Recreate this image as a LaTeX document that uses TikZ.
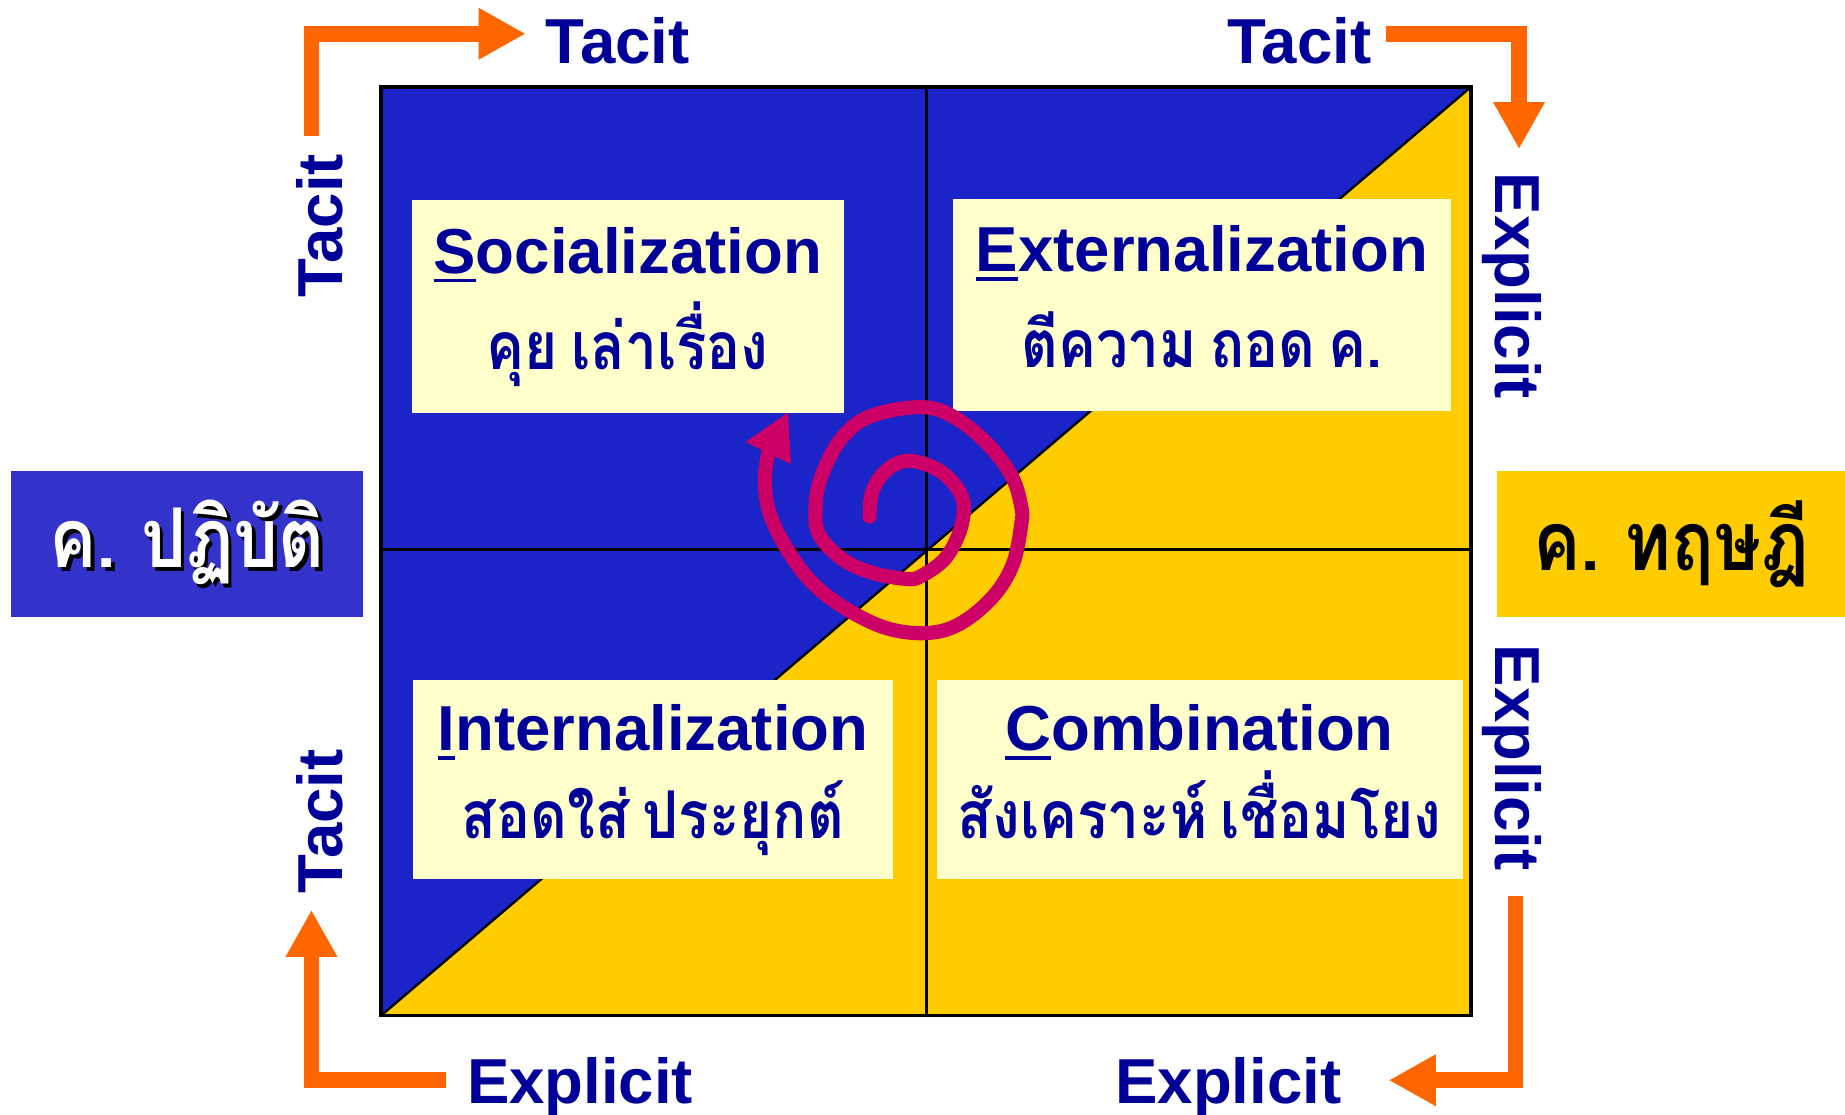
\documentclass[tikz,border=0pt]{standalone}
\usepackage{fontspec}
\setmainfont{Liberation Sans}
\newfontfamily\thaifont[Script=Thai,FakeStretch=0.86,WordSpace=0.7]{Loma}
\usetikzlibrary{arrows.meta}
\definecolor{tacitblue}{RGB}{27,36,200}
\definecolor{explicitgold}{RGB}{255,204,0}
\definecolor{notepaper}{RGB}{255,255,204}
\definecolor{inkblue}{RGB}{0,0,153}
\definecolor{flowarrow}{RGB}{255,102,0}
\definecolor{spiralpink}{RGB}{204,0,102}
\definecolor{practiceblue}{RGB}{51,51,204}
\newcommand{\keyletter}[1]{\setbox0\hbox{#1}\rlap{\rule[-8pt]{\wd0}{3pt}}\box0}
\newcommand{\thailine}[1]{{\thaifont\fontsize{56}{60}\selectfont\smash{#1}\rule[-14pt]{0pt}{14pt}}}
\newcommand{\shadowed}[1]{\rlap{\kern3pt\raisebox{-3pt}{\color{black}#1}}#1}

\begin{document}
\begin{tikzpicture}[x=1pt,y=-1pt,
    mode/.style={fill=notepaper,text=inkblue,align=center,inner sep=0pt,
      font=\fontsize{54}{82}\selectfont\bfseries},
    axis/.style={text=inkblue,inner sep=0pt,anchor=base,
      font=\fontsize{54}{60}\selectfont\bfseries},
    flow/.style={draw=flowarrow,line width=13.5pt,-{Triangle[length=40pt,width=41pt]}},
    spiral/.style={draw=spiralpink,line width=12pt,line cap=round,line join=round,
      -{Triangle[length=39pt,width=40pt]}},
    knowledge/.style={inner sep=0pt,minimum height=124pt,
      font=\thaifont\fontsize{70}{72}\selectfont\bfseries}]
  \useasboundingbox (0,0) rectangle (1568,947);

  \fill[tacitblue] (324,74) rectangle (1250,863);
  \fill[explicitgold] (324,863) -- (1250,863) -- (1250,74) -- cycle;
  \draw[line width=2pt] (324,863) -- (1250,74);
  \draw[line width=2.5pt] (787,74) -- (787,863) (324,467) -- (1250,467);
  \draw[line width=3pt] (324,74) rectangle (1250,863);

  \node[mode,minimum width=367pt,minimum height=181pt] (socialization) at (533.5,260.5)
    {\keyletter{S}ocialization\\\thailine{คุย เล่าเรื่อง}};
  \node[mode,minimum width=423pt,minimum height=180pt] (externalization) at (1021.5,259)
    {\keyletter{E}xternalization\\\thailine{ตีความ ถอด ค.}};
  \node[mode,minimum width=408pt,minimum height=169pt] (internalization) at (555,662.5)
    {\keyletter{I}nternalization\\[-7pt]\thailine{สอดใส่ ประยุกต์}};
  \node[mode,minimum width=447pt,minimum height=169pt] (combination) at (1019.5,662.5)
    {\keyletter{C}ombination\\[-7pt]\thailine{สังเคราะห์ เชื่อมโยง}};

  \node[knowledge,fill=practiceblue,text=white,minimum width=299pt] (practice) at (159,462.5)
    {\shadowed{ค. ปฏิบัติ}};
  \node[knowledge,fill=explicitgold,text=black,minimum width=296pt] (theory) at (1420,462.5)
    {ค. ทฤษฎี};

  \node[axis] (tacitTL) at (525,54) {Tacit};
  \node[axis] (tacitTR) at (1104.5,54) {Tacit};
  \node[axis] (explicitBL) at (493,938) {Explicit};
  \node[axis] (explicitBR) at (1044,938) {Explicit};
  \node[axis,rotate=90] (tacitL1) at (291,192) {Tacit};
  \node[axis,rotate=90] (tacitL2) at (291,698) {Tacit};
  \node[axis,rotate=-90] (explicitR1) at (1271,243) {Explicit};
  \node[axis,rotate=-90] (explicitR2) at (1271,644) {Explicit};

  \draw[flow] ([shift={(-7,-15)}]tacitL1.east) |- ([shift={(-17,-6)}]tacitTL.west);
  \draw[flow] ([shift={(12,-6)}]tacitTR.east) -| ([shift={(6,-20)}]explicitR1.west);
  \draw[flow] ([shift={(3,21)}]explicitR2.east) |- ([shift={(40,-6)}]explicitBR.east);
  \draw[flow] ([shift={(-18,-6)}]explicitBL.west) -| ([shift={(-7,14)}]tacitL2.west);

  \draw[spiral] plot[smooth,tension=0.6] coordinates {(739,439) (741,419) (751,402)
    (768,392) (788,395) (805,405) (817,421) (819,436) (814,456) (802,476) (782,490)
    (770,492) (742,487) (717,476) (697,456) (693,436) (697,408) (714,374) (739,354)
    (782,346) (810,354) (839,377) (860,405) (868,431) (868,445) (861,479) (844,507)
    (816,530) (788,538) (754,534) (720,518) (691,496) (669,467) (654,436) (650,408)
    (653,385)} -- (670,350);
\end{tikzpicture}
\end{document}
